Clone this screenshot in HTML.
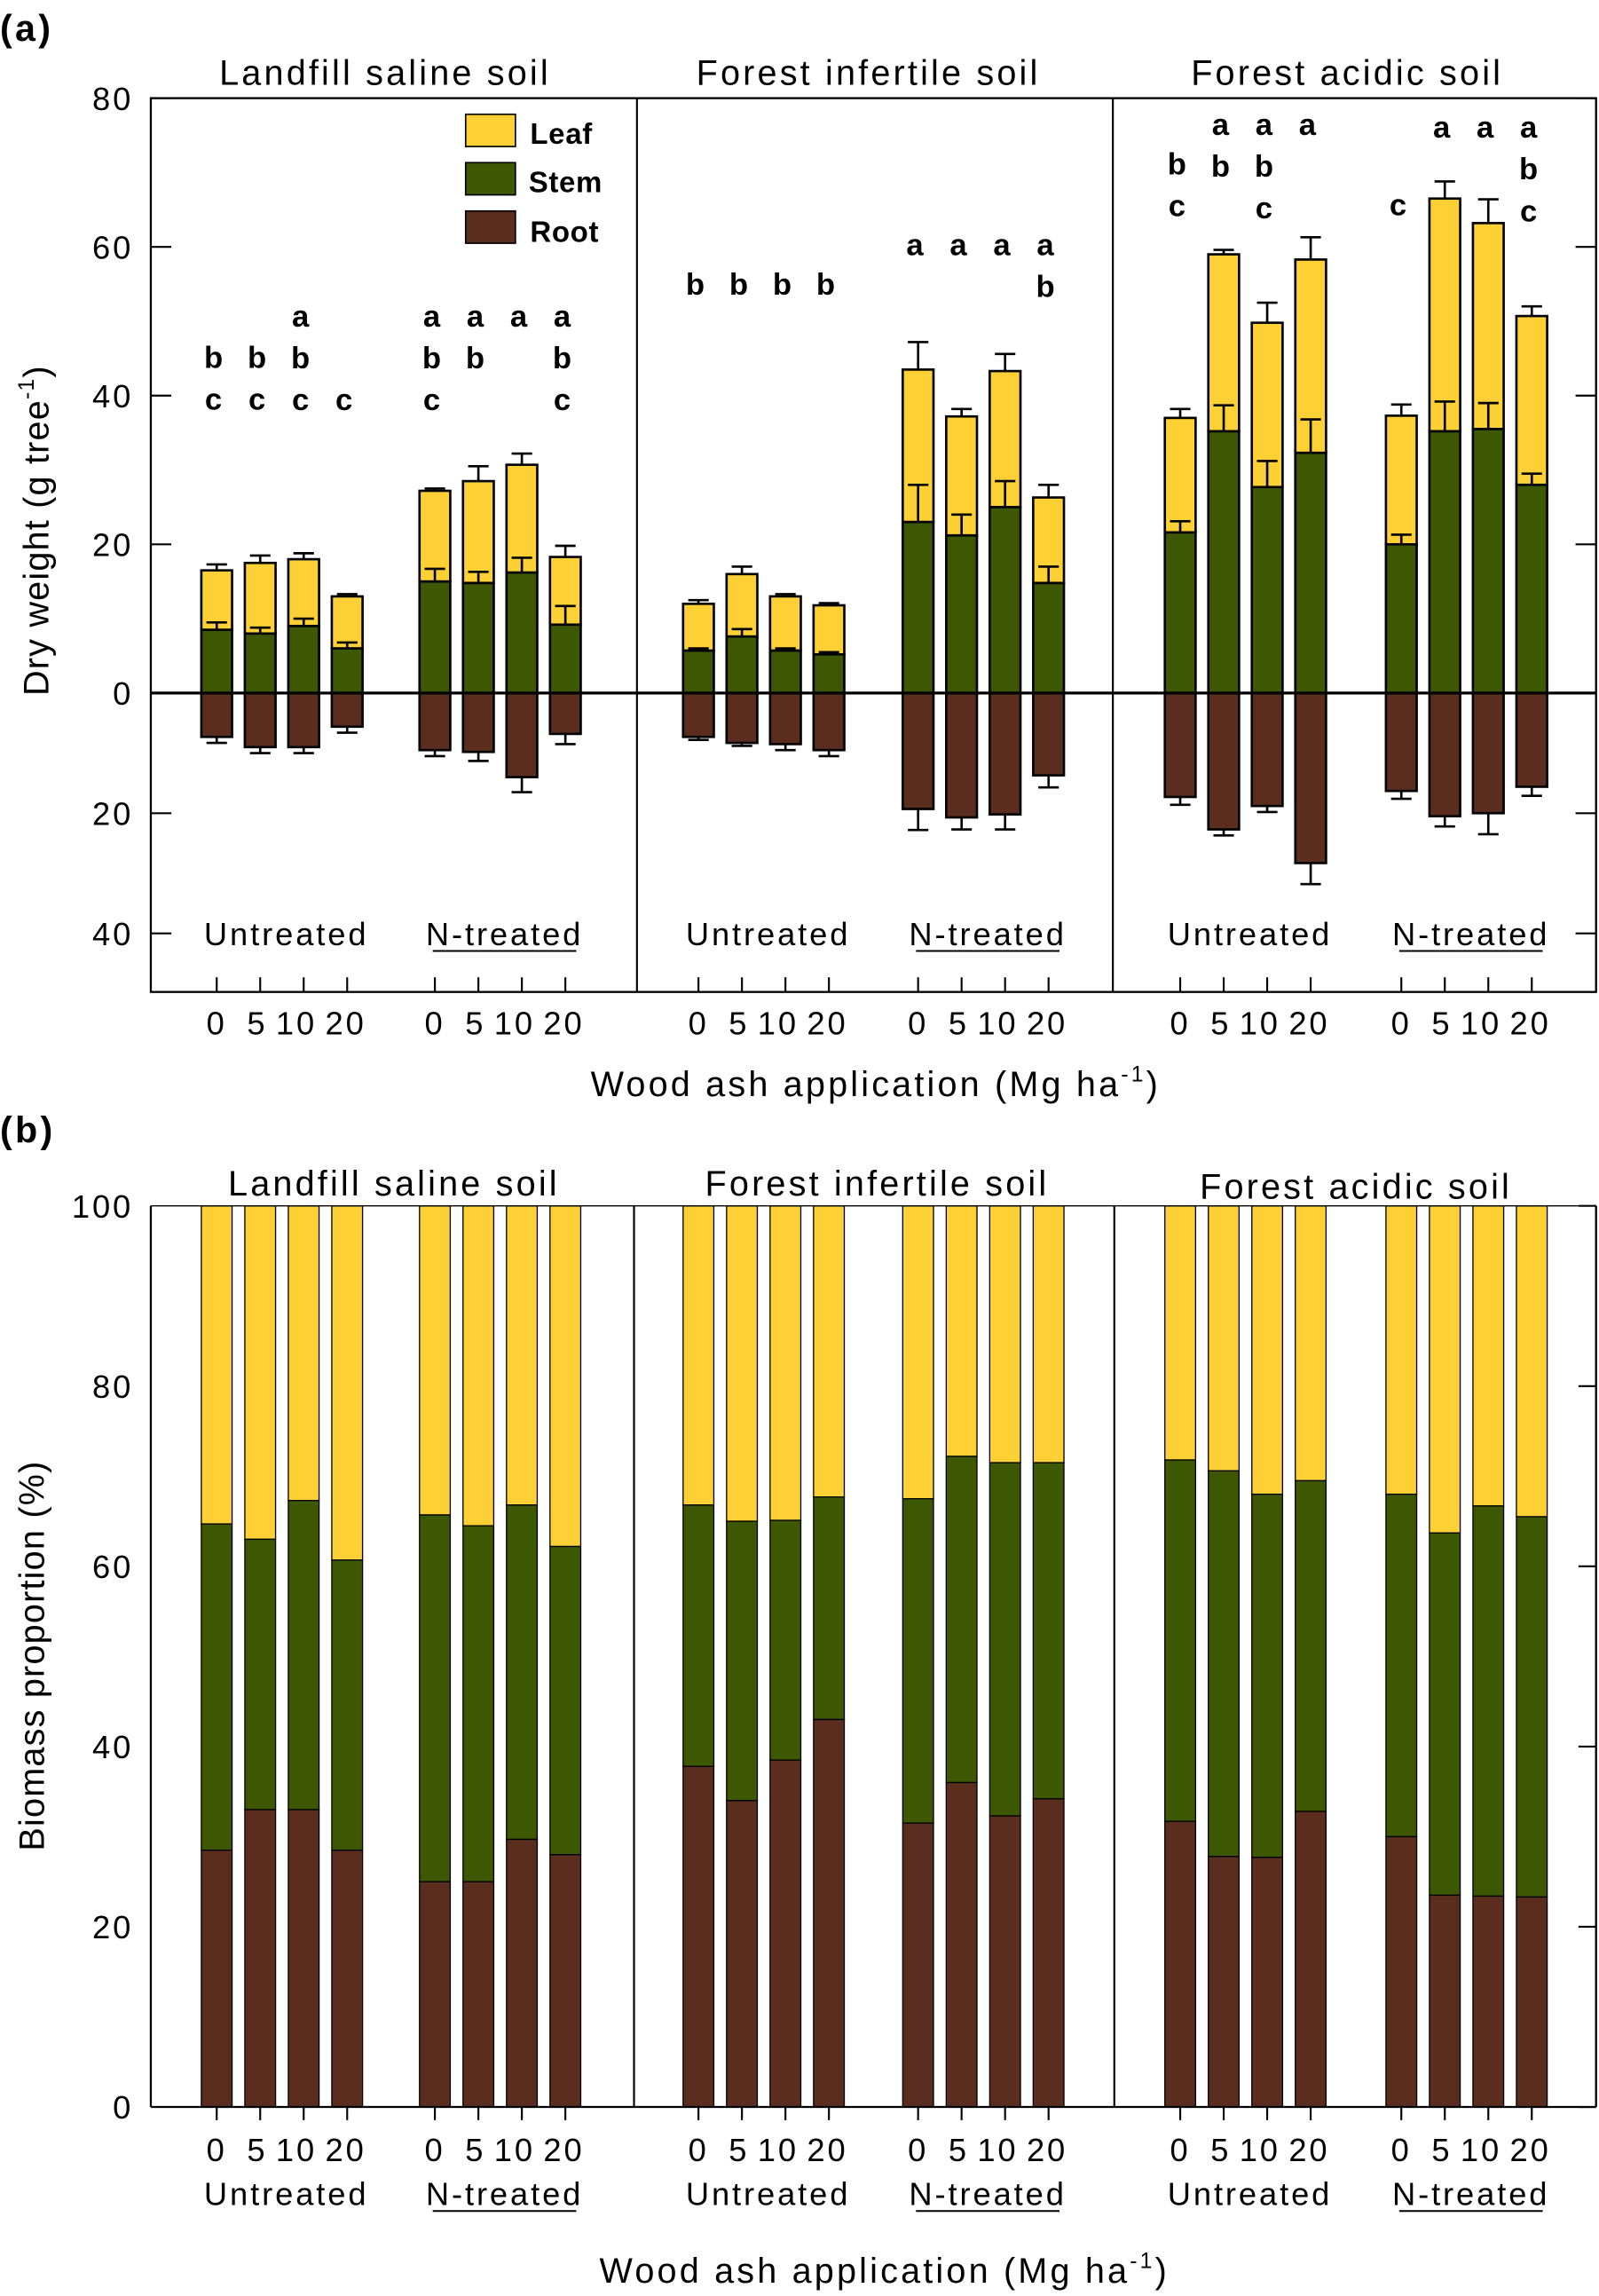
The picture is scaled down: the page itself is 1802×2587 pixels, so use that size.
<!DOCTYPE html>
<html><head><meta charset="utf-8"><style>
html,body{margin:0;padding:0;background:#fff}
svg{display:block}
text{font-family:"Liberation Sans",sans-serif;fill:#000;letter-spacing:0.08em}
text.sig, text.leg{letter-spacing:0.02em}
</style></head><body>
<svg id="chart" width="1802" height="2587" viewBox="0 0 1092 1567" preserveAspectRatio="none" xmlns="http://www.w3.org/2000/svg">
<g id="static">
<text x="0" y="28" font-size="25" font-weight="bold">(a)</text>
<text x="0" y="780" font-size="25" font-weight="bold">(b)</text>
<text x="263" y="58" font-size="24" text-anchor="middle">Landfill saline soil</text>
<text x="593" y="58" font-size="24" text-anchor="middle">Forest infertile soil</text>
<text x="920" y="58" font-size="24" text-anchor="middle">Forest acidic soil</text>
<text x="269" y="816" font-size="24" text-anchor="middle">Landfill saline soil</text>
<text x="599" y="816" font-size="24" text-anchor="middle">Forest infertile soil</text>
<text x="926" y="818" font-size="24" text-anchor="middle">Forest acidic soil</text>
<text transform="translate(33,362) rotate(-90)" font-size="24" text-anchor="middle" style="letter-spacing:0.03em">Dry weight (g tree<tspan dy="-10" font-size="15">-1</tspan><tspan dy="10">)</tspan></text>
<text transform="translate(30,1130) rotate(-90)" font-size="24" text-anchor="middle" style="letter-spacing:0.03em">Biomass proportion (%)</text>
<text x="598" y="748" font-size="24" text-anchor="middle">Wood ash application (Mg ha<tspan dy="-10" font-size="15">-1</tspan><tspan dy="10">)</tspan></text>
<text x="604" y="1558" font-size="24" text-anchor="middle">Wood ash application (Mg ha<tspan dy="-10" font-size="15">-1</tspan><tspan dy="10">)</tspan></text>
<g>
<rect x="318" y="78" width="34" height="22" fill="#FDD035" stroke="#000" stroke-width="1"/>
<text class="leg" x="362" y="98" font-size="20" font-weight="bold">Leaf</text>
<rect x="318" y="111" width="34" height="22" fill="#3D5703" stroke="#000" stroke-width="1"/>
<text class="leg" x="361" y="131" font-size="20" font-weight="bold">Stem</text>
<rect x="318" y="144" width="34" height="22" fill="#5A2D1E" stroke="#000" stroke-width="1"/>
<text class="leg" x="362" y="165" font-size="20" font-weight="bold">Root</text>
</g>
</g>
<g id="dyn"></g>
</svg>
<script>
const groupLabels = ["Untreated","N-treated","Untreated","N-treated","Untreated","N-treated"];
const doseLabels = ["0","5","10","20"];
const yTicksTopA = [0,20,40,60,80];
const yTicksRootA = [20,40];
const yTicksB = [0,20,40,60,80,100];
// Panel a (g/tree): 24 bars (6 groups x 4 doses)
const leafTotal = [16.5,17.5,18,13, 27.2,28.5,30.7,18.3, 12,16,13,11.8, 43.5,37.2,43.3,26.3, 37,59,49.8,58.3, 37.3,66.5,63.2,50.7];
const stemVal = [8.5,8,9,6, 15,14.8,16.2,9.2, 5.7,7.6,5.7,5.2, 23,21.2,25,14.8, 21.6,35.2,27.7,32.3, 20,35.2,35.5,28];
const rootVal = [7.3,9,9,5.6, 9.5,9.8,14,6.8, 7.3,8.3,8.5,9.5, 19.3,20.7,20.2,13.7, 17.3,22.7,18.8,28.3, 16.3,20.5,20,15.6];
const leafErr = [0.8,1,0.8,0.3, 0.3,2,1.5,1.5, 0.5,1,0.3,0.3, 3.7,1,2.3,1.7, 1.2,0.6,2.7,3, 1.5,2.3,3.2,1.3];
const stemErr = [1,0.8,1,0.8, 1.7,1.5,2,2.5, 0.3,1,0.3,0.3, 5,2.8,3.5,2.2, 1.5,3.5,3.5,4.5, 1.3,4,3.5,1.5];
const rootErr = [1,1,1,1, 1,1.5,2.5,1.7, 0.5,0.5,1,1, 3.5,2,2.5,2, 1.3,1,1,3.5, 1.3,1.7,3.5,1.5];
const sigLetters = ["bc","bc","abc","c", "abc","ab","a","abc", "b","b","b","b", "a","a","a","ab", "bc","ab","abc","a", "c","a","a","abc"];
const sigTopY = [243,243,215,272, 215,215,215,215, 193,193,193,193, 166,166,166,166, 111,84,84,84, 139,86,86,86];
// Panel b (%)
const rootPct = [28.5,33,33,28.5, 25,25,29.7,28, 37.8,34,38.5,43, 31.5,36,32.3,34.2, 31.7,27.8,27.7,32.8, 30,23.5,23.4,23.3];
const stemTopPct = [64.7,63,67.3,60.7, 65.7,64.5,66.8,62.2, 66.8,65,65.1,67.7, 67.5,72.2,71.5,71.5, 71.8,70.6,68,69.5, 68,63.7,66.7,65.5];

const C = {leaf:"#FDD035", stem:"#3D5703", root:"#5A2D1E"};
const groupX = [148,297,477,627,806,957], step = 29.7, bw = 21;
const L = 103, R = 1090;
const aTop=67, aZero=473, aBot=677, bTop=823, bZero=1438;
function yA(v){return aZero - v*(aZero-aTop)/80;}
function yR(v){return aZero + v*4.1;}
function yB(v){return bZero - v*(bZero-bTop)/100;}
function xBar(i){return groupX[Math.floor(i/4)] + (i%4)*step;}
const labelOff = [0,-2,-5,-1];
const NS="http://www.w3.org/2000/svg", dyn=document.getElementById('dyn');
function mk(tag, at, txt){const e=document.createElementNS(NS,tag);for(const k in at)e.setAttribute(k,at[k]);if(txt!=null)e.textContent=txt;dyn.appendChild(e);return e;}
function rect(x,y,w,h,fill,sw){return mk('rect',{x:x,y:Math.min(y,y+h),width:w,height:Math.abs(h),fill:fill,stroke:'#000','stroke-width':sw});}
function line(x1,y1,x2,y2,sw){return mk('line',{x1:x1,y1:y1,x2:x2,y2:y2,stroke:'#000','stroke-width':sw||1.3});}
function errBar(x,y0,y1){const a=line(x,y0,x,y1,1.6);const b=line(x-7,y1,x+7,y1,1.6);return [a,b];}

// Panel a
for(let i=0;i<24;i++){
  const x=xBar(i), xl=x-bw/2;
  const r=rect(xl,yA(stemVal[i]),bw,yA(leafTotal[i])-yA(stemVal[i]),C.leaf,1.6);
  
  
  errBar(x,yA(leafTotal[i]),yA(leafTotal[i]+leafErr[i]));
  const s=rect(xl,yA(0),bw,yA(stemVal[i])-yA(0),C.stem,1.6);
  
  
  errBar(x,yA(stemVal[i]),yA(stemVal[i]+stemErr[i]));
  const rt=rect(xl,yA(0),bw,yR(rootVal[i])-yA(0),C.root,1.6);
  
  
  errBar(x,yR(rootVal[i]),yR(rootVal[i]+rootErr[i]));
  const ls=sigLetters[i];
  for(let k=0;k<ls.length;k++){
    const t=mk('text',{class:'sig',x:x-2,y:sigTopY[i]+8+k*28.5,'font-size':21,'font-weight':'bold','text-anchor':'middle'},ls[k]);
    
    
  }
  line(x,aBot,x,aBot-10,1.3);
  const tl=mk('text',{x:x+labelOff[i%4],y:706,'font-size':22,'text-anchor':'middle'},doseLabels[i%4]);
  
  
}
line(L,aZero,R,aZero,2);
const fa=mk('rect',{x:L,y:aTop,width:R-L,height:aBot-aTop,fill:'none',stroke:'#000','stroke-width':1.4});


line(435,aTop,435,aBot,1.3); line(760,aTop,760,aBot,1.3);
yTicksTopA.forEach(v=>{const y=yA(v);line(L,y,L+14,y);line(R,y,R-14,y);
  const t=mk('text',{x:91,y:y+8,'font-size':22,'text-anchor':'end'},String(v));
  
  });
yTicksRootA.forEach(v=>{const y=yR(v);line(L,y,L+14,y);line(R,y,R-14,y);
  const t=mk('text',{x:91,y:y+8,'font-size':22,'text-anchor':'end'},String(v));
  
  });
groupLabels.forEach((g,j)=>{const cx=groupX[j]+1.5*step+3;
  const t=mk('text',{x:cx,y:645,'font-size':22,'text-anchor':'middle'},g);
  
  
  if(j%2)line(cx-49,649,cx+49,649,1.2);
  const t2=mk('text',{x:cx,y:1505,'font-size':22,'text-anchor':'middle'},g);
  
  
  if(j%2)line(cx-49,1509,cx+49,1509,1.2);
});

// Panel b
for(let i=0;i<24;i++){
  const x=xBar(i), xl=x-bw/2;
  const a=rect(xl,yB(100),bw,yB(stemTopPct[i])-yB(100),C.leaf,0.8);
  
  
  const b=rect(xl,yB(rootPct[i]),bw,yB(stemTopPct[i])-yB(rootPct[i]),C.stem,0.8);
  
  
  const c=rect(xl,yB(0),bw,yB(rootPct[i])-yB(0),C.root,0.8);
  
  
  line(x,bZero,x,bZero+9,1.3);
  const tl=mk('text',{x:x+labelOff[i%4],y:1475,'font-size':22,'text-anchor':'middle'},doseLabels[i%4]);
  
  
}
line(L,bTop,R,bTop,0.8);
line(L,bTop,L,bZero,1.4); line(R,bTop,R,bZero,1.4); line(L,bZero,R,bZero,1.4);
line(433,bTop,433,bZero,1.3); line(761,bTop,761,bZero,1.3);
yTicksB.forEach(v=>{const y=yB(v);line(R,y,R-12,y);
  const t=mk('text',{x:91,y:y+8,'font-size':22,'text-anchor':'end'},String(v));
  
  });
</script>
</body></html>
